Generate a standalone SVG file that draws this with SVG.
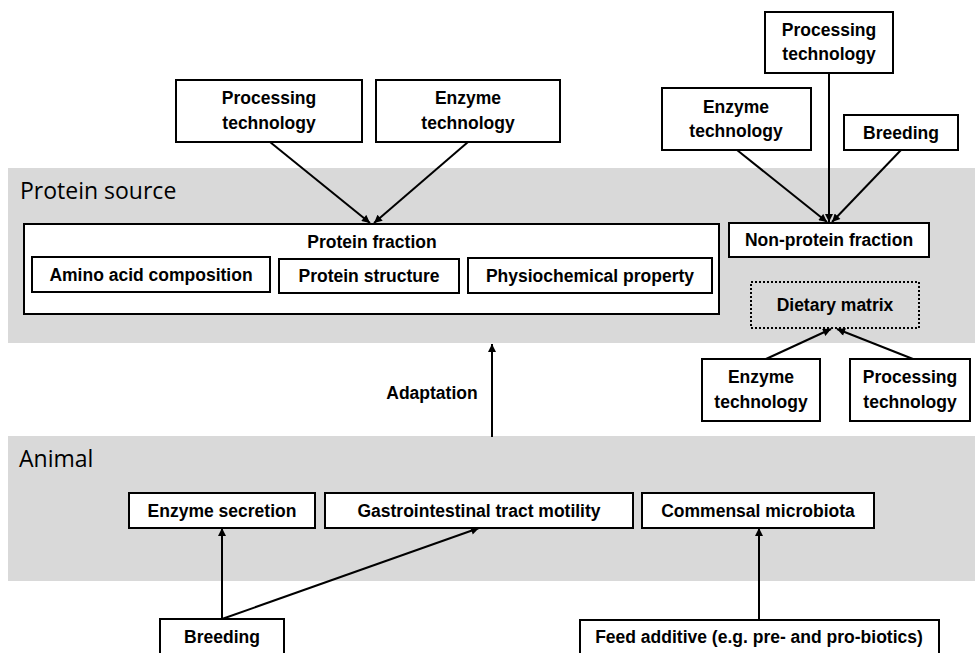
<svg xmlns="http://www.w3.org/2000/svg" width="975" height="653" viewBox="0 0 975 653">
<defs>
<style>
.band{fill:#d9d9d9;}
.box{fill:#ffffff;stroke:#000;stroke-width:2;}
.dot{fill:none;stroke:#000;stroke-width:2;stroke-dasharray:2 2;}
.t{font-family:"Liberation Sans",Arial,sans-serif;font-weight:bold;font-size:17.5px;fill:#000;text-anchor:middle;}
.h{font-family:"Open Sans","Liberation Sans",sans-serif;font-size:23px;fill:#000;}
.c{stroke:#000;stroke-width:2;fill:none;marker-end:url(#ah);}
</style>
<marker id="ah" viewBox="0 0 10 10" refX="10" refY="5" markerWidth="9" markerHeight="8" markerUnits="userSpaceOnUse" orient="auto">
<path d="M0,0 L10,5 L0,10 z" fill="#000"/>
</marker>
</defs>
<rect width="975" height="653" fill="#ffffff"/>
<g id="band-protein">
<rect class="band" x="8" y="168" width="967" height="175"/>
<text class="h" x="20" y="199">Protein source</text>
</g>
<g id="band-animal">
<rect class="band" x="8" y="436" width="967" height="145"/>
<text class="h" x="19" y="467">Animal</text>
</g>
<g id="connectors">
<line class="c" x1="270" y1="142" x2="370" y2="223"/>
<line class="c" x1="468" y1="142" x2="374" y2="223"/>
<line class="c" x1="737" y1="150" x2="827" y2="222"/>
<line class="c" x1="829" y1="73" x2="829" y2="222"/>
<line class="c" x1="901" y1="150" x2="832" y2="222"/>
<line class="c" x1="766" y1="359" x2="831" y2="329"/>
<line class="c" x1="913" y1="359" x2="837" y2="329"/>
<line class="c" x1="492" y1="437" x2="492" y2="344"/>
<line class="c" x1="222" y1="619" x2="222" y2="528"/>
<line class="c" x1="222" y1="619" x2="479" y2="528"/>
<line class="c" x1="759" y1="620" x2="759" y2="528"/>
</g>
<g id="processing-tl">
<rect class="box" x="176" y="80" width="186" height="62"/>
<text class="t" x="269" y="104">Processing</text>
<text class="t" x="269" y="129">technology</text>
</g>
<g id="enzyme-tl">
<rect class="box" x="376" y="80" width="184" height="62"/>
<text class="t" x="468" y="104">Enzyme</text>
<text class="t" x="468" y="129">technology</text>
</g>
<g id="processing-tr">
<rect class="box" x="765" y="12" width="128" height="61"/>
<text class="t" x="829" y="36">Processing</text>
<text class="t" x="829" y="60">technology</text>
</g>
<g id="enzyme-tr">
<rect class="box" x="662" y="88" width="149" height="62"/>
<text class="t" x="736" y="113">Enzyme</text>
<text class="t" x="736" y="137">technology</text>
</g>
<g id="breeding-tr">
<rect class="box" x="844" y="115" width="114" height="35"/>
<text class="t" x="901" y="139">Breeding</text>
</g>
<g id="protein-fraction">
<rect class="box" x="24" y="224" width="695" height="90"/>
<text class="t" x="372" y="248">Protein fraction</text>
</g>
<g id="amino-acid">
<rect class="box" x="32" y="257" width="238" height="35"/>
<text class="t" x="151" y="281">Amino acid composition</text>
</g>
<g id="protein-structure">
<rect class="box" x="279" y="259" width="180" height="34"/>
<text class="t" x="369" y="282">Protein structure</text>
</g>
<g id="physiochemical">
<rect class="box" x="468" y="258" width="244" height="35"/>
<text class="t" x="590" y="282">Physiochemical property</text>
</g>
<g id="non-protein">
<rect class="box" x="729" y="223" width="200" height="34"/>
<text class="t" x="829" y="246">Non-protein fraction</text>
</g>
<g id="dietary-matrix">
<rect class="dot" x="751" y="282" width="168" height="46"/>
<text class="t" x="835" y="311">Dietary matrix</text>
</g>
<g id="enzyme-br">
<rect class="box" x="702" y="359" width="118" height="62"/>
<text class="t" x="761" y="383">Enzyme</text>
<text class="t" x="761" y="408">technology</text>
</g>
<g id="processing-br">
<rect class="box" x="850" y="359" width="120" height="62"/>
<text class="t" x="910" y="383">Processing</text>
<text class="t" x="910" y="408">technology</text>
</g>
<g id="adaptation">
<text class="t" x="432" y="399">Adaptation</text>
</g>
<g id="enzyme-secretion">
<rect class="box" x="129" y="493" width="186" height="35"/>
<text class="t" x="222" y="517">Enzyme secretion</text>
</g>
<g id="gi-motility">
<rect class="box" x="325" y="493" width="308" height="35"/>
<text class="t" x="479" y="517">Gastrointestinal tract motility</text>
</g>
<g id="commensal">
<rect class="box" x="642" y="493" width="232" height="35"/>
<text class="t" x="758" y="517">Commensal microbiota</text>
</g>
<g id="breeding-b">
<rect class="box" x="160" y="619" width="124" height="45"/>
<text class="t" x="222" y="643">Breeding</text>
</g>
<g id="feed-additive">
<rect class="box" x="580" y="620" width="359" height="45"/>
<text class="t" x="759" y="643">Feed additive (e.g. pre- and pro-biotics)</text>
</g>
</svg>
